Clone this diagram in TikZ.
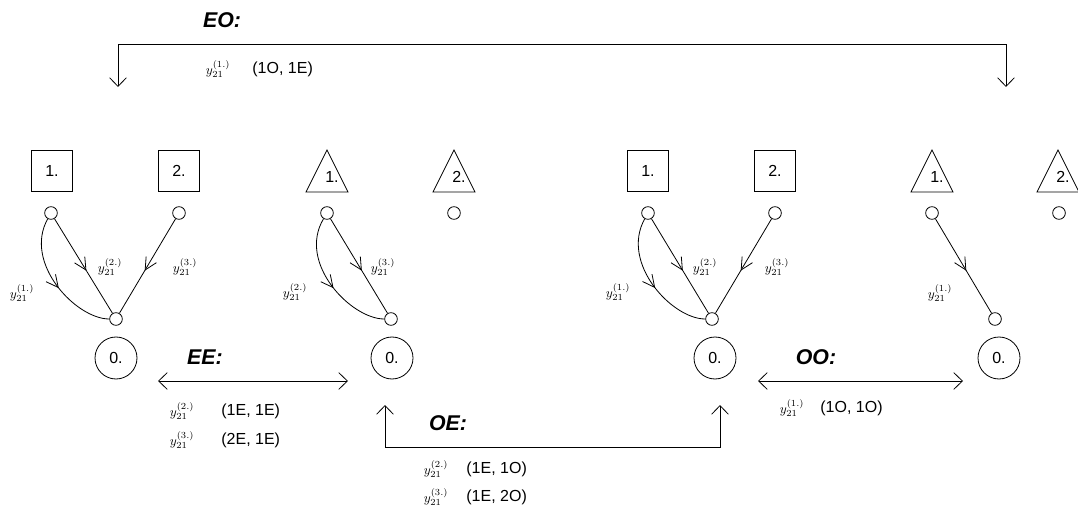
\documentclass[tikz,border=0pt]{standalone}
\usepackage{fontspec}
\setmainfont{Liberation Sans}
\usetikzlibrary{calc,arrows.meta,decorations.markings}
\newcommand{\tikzTriangleNode}[3]{
  \coordinate (#1) at (#2);
  \draw ($(#1)+(-21,21)$) -- ($(#1)+(21,21)$) -- ($(#1)+(0,-21)$) -- cycle;
  \node[lbl] (#1txt) at ($(#1)+(5,6)$) {#3};
}

\begin{document}
\begin{tikzpicture}[x=0.75pt, y=-0.75pt, line width=0.6pt,
  >={Straight Barb[length=6.5pt,width=12.5pt]},
  lbl/.style={inner sep=0pt, font=\fontsize{12}{14}\selectfont},
  boxnode/.style={draw, rectangle, minimum size=31pt, inner sep=0pt, lbl},
  dot/.style={draw, circle, minimum size=9.5pt, inner sep=0pt},
  zero/.style={draw, circle, minimum size=31.5pt, inner sep=0pt, lbl},
  head/.style={inner sep=0pt, font=\fontsize{16}{18}\selectfont\bfseries\itshape},
  ylab/.style={inner sep=0pt, font=\fontsize{10}{12}\selectfont},
  midarrow/.style={postaction={decorate},
    decoration={markings, mark=at position 0.55 with
      {\arrow{Straight Barb[length=9pt,width=9pt]}}}}]
  \useasboundingbox (0,0) rectangle (1078,520);

  % group EE, first
  \node[boxnode] (sqa1) at ( 52,171) {1.};
  \node[boxnode] (sqa2) at (179,171) {2.};
  \node[dot] (da1) at ( 51,213) {};
  \node[dot] (da2) at (179,213) {};
  \node[dot] (ba) at (116,319) {};
  \node[zero] (za) at (116,358) {0.};
  \draw[midarrow] (da1) .. controls +(-28,50) and +(-40,0) .. (ba);
  \draw[midarrow] (da1) -- (ba);
  \draw[midarrow] (da2) -- (ba);
  \node[ylab] (ya1) at ( 22,293) {$y_{21}^{(1.)}$};
  \node[ylab] (ya2) at (110,267) {$y_{21}^{(2.)}$};
  \node[ylab] (ya3) at (185,267) {$y_{21}^{(3.)}$};

  % group EE, second
  \tikzTriangleNode{tra1}{327,171}{1.}
  \tikzTriangleNode{tra2}{454,171}{2.}
  \node[dot] (db1) at (327,213) {};
  \node[dot] (db2) at (454,213) {};
  \node[dot] (bb) at (391,319) {};
  \node[zero] (zb) at (392,358) {0.};
  \draw[midarrow] (db1) .. controls +(-30,50) and +(-40,0) .. (bb);
  \draw[midarrow] (db1) -- (bb);
  \node[ylab] (yb2) at (295,292) {$y_{21}^{(2.)}$};
  \node[ylab] (yb3) at (383,267) {$y_{21}^{(3.)}$};

  % group OO, first
  \node[boxnode] (sqc1) at (648,171) {1.};
  \node[boxnode] (sqc2) at (775,171) {2.};
  \node[dot] (dc1) at (648,213) {};
  \node[dot] (dc2) at (775,213) {};
  \node[dot] (bc) at (712,319) {};
  \node[zero] (zc) at (715,358) {0.};
  \draw[midarrow] (dc1) .. controls +(-28,50) and +(-40,0) .. (bc);
  \draw[midarrow] (dc1) -- (bc);
  \draw[midarrow] (dc2) -- (bc);
  \node[ylab] (yc1) at (618,292) {$y_{21}^{(1.)}$};
  \node[ylab] (yc2) at (705,267) {$y_{21}^{(2.)}$};
  \node[ylab] (yc3) at (777,267) {$y_{21}^{(3.)}$};

  % group OO, second
  \tikzTriangleNode{trd1}{932,171}{1.}
  \tikzTriangleNode{trd2}{1058,171}{2.}
  \node[dot] (dd1) at (932,213) {};
  \node[dot] (dd2) at (1059,213) {};
  \node[dot] (bd) at (995,319) {};
  \node[zero] (zd) at (999,358) {0.};
  \draw[midarrow] (dd1) -- (bd);
  \node[ylab] (yd1) at (940,293) {$y_{21}^{(1.)}$};

  % EO
  \node[head] (eo) at (222,20) {EO:};
  \coordinate (eoL) at (118,87);
  \coordinate (eoR) at (1006,87);
  \draw[<->] (eoL) -- ++(0,-43) -| (eoR);
  \node[ylab] (eoy) at (218,69) {$y_{21}^{(1.)}$};
  \node[lbl, anchor=west] (eot) at (252,69) {(1O, 1E)};

  % EE
  \node[head] (ee) at (205,357) {EE:};
  \coordinate (eeL) at (158,381);
  \coordinate (eeR) at (348,381);
  \draw[<->] (eeL) -- (eeR);
  \node[ylab] (eey1) at (182,411) {$y_{21}^{(2.)}$};
  \node[lbl, anchor=west] (eet1) at (221,411) {(1E, 1E)};
  \node[ylab] (eey2) at (182,440) {$y_{21}^{(3.)}$};
  \node[lbl, anchor=west] (eet2) at (221,440) {(2E, 1E)};

  % OE
  \node[head] (oe) at (448,423) {OE:};
  \coordinate (oeL) at (385,405);
  \coordinate (oeR) at (720,405);
  \draw[<->] (oeL) -- ++(0,42) -| (oeR);
  \node[ylab] (oey1) at (436,469) {$y_{21}^{(2.)}$};
  \node[lbl, anchor=west] (oet1) at (466,469) {(1E, 1O)};
  \node[ylab] (oey2) at (436,497) {$y_{21}^{(3.)}$};
  \node[lbl, anchor=west] (oet2) at (466,497) {(1E, 2O)};

  % OO
  \node[head] (oo) at (816,357) {OO:};
  \coordinate (ooL) at (758,381);
  \coordinate (ooR) at (963,381);
  \draw[<->] (ooL) -- (ooR);
  \node[ylab] (ooy) at (792,408) {$y_{21}^{(1.)}$};
  \node[lbl, anchor=west] (oot) at (820,408) {(1O, 1O)};
\end{tikzpicture}
\end{document}
